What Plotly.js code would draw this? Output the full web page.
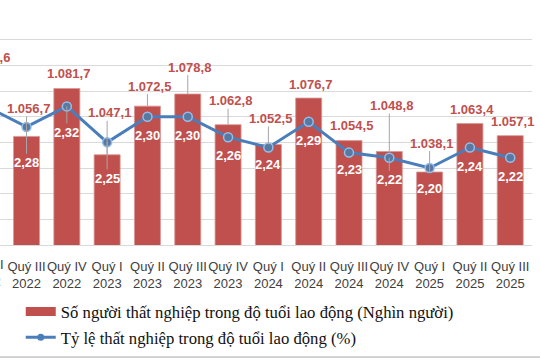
<!DOCTYPE html>
<html><head><meta charset="utf-8">
<script src="https://cdn.plot.ly/plotly-3.0.1.min.js"></script>
<style>html,body{margin:0;padding:0;background:#fff}#chart{width:540px;height:360px}</style>
</head><body><div id="chart"></div>
<script>
// ---- data ----
var categories = ['Quý II<br>2022','Quý III<br>2022','Quý IV<br>2022','Quý I<br>2023','Quý II<br>2023','Quý III<br>2023','Quý IV<br>2023','Quý I<br>2024','Quý II<br>2024','Quý III<br>2024','Quý IV<br>2024','Quý I<br>2025','Quý II<br>2025','Quý III<br>2025'];
var unemployed = [1070.6,1056.7,1081.7,1047.1,1072.5,1078.8,1062.8,1052.5,1076.7,1054.5,1048.8,1038.1,1063.4,1057.1];
var rate = [2.32,2.28,2.32,2.25,2.30,2.30,2.26,2.24,2.29,2.23,2.22,2.20,2.24,2.22];
var barName = 'Số người thất nghiệp trong độ tuổi lao động (Nghìn người)';
var lineName = 'Tỷ lệ thất nghiệp trong độ tuổi lao động (%)';
// label offsets (px) as placed in the original
var barLabelLift = [52,28,15,42,20,27,24,26,14,15,46,29,14,14];
var rateLabelDrop = [19,36,26,36,19,19,18,17,19,17,22,20,19,19];

function vn(v, d){
  var s = v.toFixed(d).split('.');
  var intp = s[0].replace(/\B(?=(\d{3})+(?!\d))/g, '.');
  return d ? intp + ',' + s[1] : intp;
}
var RED = '#c0504d', BLUE = '#4a7ebb';
var XR = [0.342, 13.54], YR = [1000, 1120.6], Y2R = [2.05, 2.50];
function xPaper(i){ return (i - XR[0]) / (XR[1] - XR[0]); }
function yPaper(v){ return (v - YR[0]) / (YR[1] - YR[0]); }

var traces = [
  {type:'bar', x:categories, y:unemployed, marker:{color:RED, line:{color:'#d99694', width:0.8}}, showlegend:false, hoverinfo:'skip'},
  {type:'scatter', mode:'lines+markers', x:categories, y:rate, yaxis:'y2', line:{color:BLUE, width:3},
   marker:{symbol:'circle', size:9, color:'#5a78a0', line:{color:'#8ec0ee', width:1.5}}, showlegend:false, hoverinfo:'skip'},
  {type:'scatter', mode:'lines', x:[null], y:[null], name:barName, line:{color:RED, width:9}, legendgroup:'a'},
  {type:'scatter', mode:'lines+markers', x:[null], y:[null], name:lineName, line:{color:BLUE, width:3}, marker:{size:7, color:BLUE}, legendgroup:'b'}
];

var annotations = [], shapes = [];
for (var i=0;i<categories.length;i++){
  var inRange = i >= XR[0];
  annotations.push({x: inRange ? i : xPaper(i), xref: inRange ? 'x' : 'paper', xanchor:'center', y:yPaper(unemployed[i]), yref:'paper', yshift:barLabelLift[i], xshift:2,
    text:vn(unemployed[i],1), showarrow:false, yanchor:'middle',
    font:{family:'Liberation Sans, Arial', size:13, color:RED, weight:'bold'}});
  if (inRange) annotations.push({x:i, y:rate[i], xref:'x', yref:'y2', yshift:-rateLabelDrop[i], text:vn(rate[i],2), showarrow:false, yanchor:'middle', xanchor:'center',
    font:{family:'Liberation Sans, Arial', size:13, color:'#ffffff', weight:'bold'}});
  if (barLabelLift[i] >= 20) shapes.push({type:'line', layer:'above', xref:'x', yref:'y', ysizemode:'pixel', yanchor:unemployed[i], x0:i, x1:i, y0:barLabelLift[i]-8, y1:0, line:{color:'#a6a6a6', width:1}});
  if (rateLabelDrop[i] >= 22) shapes.push({type:'line', layer:'above', xref:'x', yref:'y2', ysizemode:'pixel', yanchor:rate[i], x0:i, x1:i, y0:0, y1:-(rateLabelDrop[i]-9), line:{color:'#a6a6a6', width:1}});
}
// first (cut-off) tick label
annotations.push({x:xPaper(0), xref:'paper', xanchor:'center', y:0, yref:'paper', yanchor:'top', yshift:-10, text:categories[0], showarrow:false,
  font:{family:'Liberation Sans, Arial', size:13, color:'#404040'}});
// chart border
shapes.push({type:'line', xref:'paper', yref:'paper', x0:-0.01, x1:1.02, y0:-0.485, y1:-0.485, line:{color:'#a6a6a6', width:1}});

var layout = {
  width:540, height:360,
  margin:{l:0, r:8, t:14, b:115},
  paper_bgcolor:'#fff', plot_bgcolor:'#fff',
  bargap:0.355,
  xaxis:{type:'category', range:XR, showline:true, linecolor:'#d9d9d9', linewidth:1, ticks:'', showgrid:false, ticklabelstandoff:9,
    tickfont:{family:'Liberation Sans, Arial', size:13, color:'#404040'}, tickangle:0},
  yaxis:{range:YR, showgrid:false, showticklabels:false, zeroline:false, ticks:''},
  yaxis2:{overlaying:'y', side:'right', range:Y2R, tick0:2.05, dtick:0.05, showgrid:true, gridcolor:'#d9d9d9', gridwidth:1,
    showticklabels:false, zeroline:false, ticks:''},
  showlegend:true,
  legend:{orientation:'v', x:0.039, xanchor:'left', y:-0.213, yanchor:'top', traceorder:'grouped', tracegroupgap:1,
    font:{family:'Liberation Serif, Times New Roman', size:16.7, color:'#111'}, bgcolor:'rgba(0,0,0,0)'},
  annotations:annotations, shapes:shapes
};
Plotly.newPlot('chart', traces, layout, {displayModeBar:false, staticPlot:true});
</script></body></html>
